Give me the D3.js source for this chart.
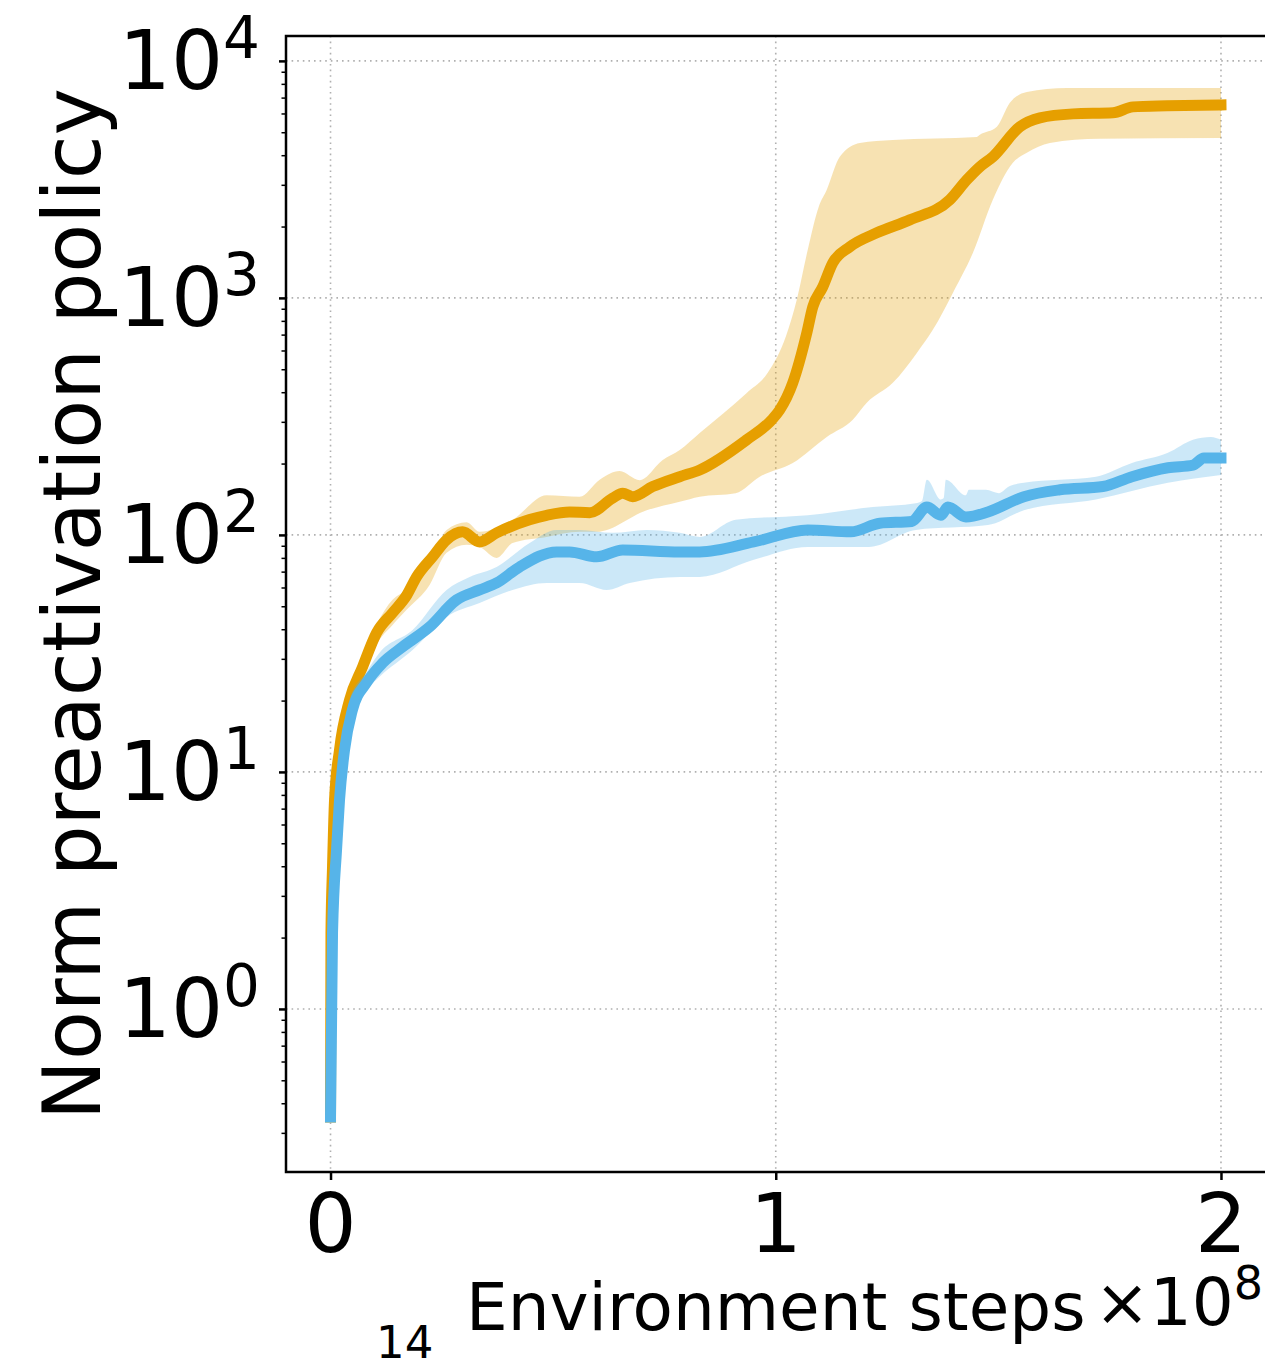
<!DOCTYPE html>
<html>
<head>
<meta charset="utf-8">
<script src="https://cdn.jsdelivr.net/npm/d3@7"></script>
<style>
  html, body { margin: 0; padding: 0; background: #fff; }
  svg { display: block; font-family: "DejaVu Sans", sans-serif; }
  .grid line { stroke: #b0b0b0; stroke-width: 1.6; stroke-dasharray: 1.6 4; }
</style>
</head>
<body>
<svg id="chart" width="1265" height="1368"></svg>
<script>
/* ---- data (steps in units of 1e8) ---- */
const orangeMean = [
  [0, 0.35], [0.001, 2.09], [0.0045, 3.97], [0.009, 7.62], [0.0202, 12.4], [0.0427, 20.1],
  [0.0719, 27.7], [0.1034, 38.6], [0.1393, 46.9], [0.1708, 55.5], [0.1933, 66.5],
  [0.2292, 80.8], [0.2607, 95.3], [0.2966, 103], [0.3348, 93.4], [0.373, 102],
  [0.4472, 116], [0.4854, 121], [0.5371, 125], [0.582, 124], [0.6337, 143],
  [0.6562, 150], [0.6787, 145], [0.7236, 160], [0.7843, 176], [0.8292, 188],
  [0.9348, 252], [0.991, 306], [1.009, 337], [1.0382, 438], [1.0697, 711],
  [1.0831, 916], [1.1056, 1113], [1.1281, 1405], [1.1663, 1642], [1.227, 1881],
  [1.3011, 2134], [1.391, 2594], [1.4292, 3148], [1.4584, 3573], [1.4876, 3938],
  [1.5483, 5270], [1.5933, 5746], [1.6674, 5976], [1.7573, 6036], [1.8022, 6397],
  [1.8787, 6462], [2.0, 6522]
];
const orangeHigh = [
  [0, 0.35], [0.0202, 13.0], [0.0427, 21.1], [0.0719, 29.7], [0.1034, 41.7], [0.1393, 53.2],
  [0.1708, 58.6], [0.2225, 74.7], [0.2607, 105], [0.3056, 113], [0.3348, 103],
  [0.409, 116], [0.4854, 147], [0.5596, 145], [0.6045, 171], [0.6494, 186],
  [0.6944, 170], [0.7461, 207], [0.7843, 228], [0.8292, 269], [0.9348, 397],
  [0.982, 483], [1.0225, 685], [1.0472, 981], [1.0719, 1596], [1.0966, 2422],
  [1.1146, 2857], [1.1438, 3937], [1.1888, 4508], [1.2629, 4641], [1.4517, 4779],
  [1.4584, 4875], [1.4966, 5270], [1.5258, 6653], [1.564, 7400], [1.6539, 7690],
  [2.0, 7690]
];
const orangeLow = [
  [0, 0.35], [0.0202, 11.2], [0.0427, 18.3], [0.0719, 24.4], [0.1034, 34.4], [0.1393, 41.7],
  [0.1708, 48.3], [0.2225, 61.5], [0.2607, 84.0], [0.3056, 90.8], [0.3348, 89.0],
  [0.373, 80.0], [0.409, 92.5], [0.4854, 98.1], [0.5596, 103], [0.5978, 103],
  [0.7101, 127], [0.7843, 138], [0.8292, 145], [0.9101, 150], [0.964, 176],
  [1.0382, 201], [1.1146, 259], [1.173, 306], [1.2045, 361], [1.2629, 438],
  [1.3169, 586], [1.3528, 733], [1.3978, 1050], [1.4427, 1548], [1.4876, 2594],
  [1.5326, 3715], [1.564, 4093], [1.6157, 4508], [1.7281, 4688], [2.0, 4733]
];
const blueMean = [
  [0, 0.35], [0.0045, 2.09], [0.0135, 4.69], [0.0202, 7.62], [0.0315, 12.4], [0.0494, 18.3],
  [0.0809, 23.8], [0.1169, 28.8], [0.1618, 33.7], [0.2225, 40.9], [0.2831, 53.2],
  [0.3348, 58.6], [0.373, 62.7], [0.4247, 73.3], [0.5079, 84.8], [0.5371, 84.8],
  [0.5978, 80.8], [0.6562, 86.4], [0.7843, 84.8], [0.8292, 84.8], [0.9506, 93.4],
  [1.0719, 105], [1.1685, 103], [1.2337, 112], [1.3056, 114], [1.3393, 131],
  [1.3708, 121], [1.3865, 131], [1.427, 119], [1.4764, 125], [1.5573, 145],
  [1.6382, 155], [1.7348, 160], [1.8, 176], [1.8809, 192], [1.9371, 197],
  [1.9618, 211], [2.0, 211]
];
const blueHigh = [
  [0, 0.35], [0.0202, 8.0], [0.0427, 20.1], [0.0809, 26.4], [0.1101, 31.8], [0.1843, 39.7],
  [0.2607, 58.6], [0.3124, 66.5], [0.373, 73.3], [0.4472, 92.5], [0.5079, 105],
  [0.5596, 105], [0.6337, 102], [0.7101, 105], [0.7843, 102], [0.8292, 98.1],
  [0.9101, 116], [1.0719, 121], [1.218, 131], [1.3146, 136], [1.3281, 139],
  [1.3393, 171], [1.3708, 141], [1.3775, 143], [1.382, 171], [1.427, 147],
  [1.4337, 155], [1.4719, 155], [1.5011, 150], [1.5236, 160], [1.5573, 166],
  [1.7191, 176], [1.8, 201], [1.8809, 222], [1.9371, 252], [1.9775, 259], [2.0, 252]
];
const blueLow = [
  [0, 0.35], [0.0202, 7.26], [0.0427, 16.6], [0.0809, 22.2], [0.1101, 25.2], [0.1843, 32.7],
  [0.2607, 45.1], [0.3348, 51.6], [0.409, 58.6], [0.4854, 62.7], [0.5596, 62.7],
  [0.6202, 58.6], [0.6719, 62.7], [0.7843, 66.5], [0.8292, 66.5], [0.9506, 78.5],
  [1.0719, 89.0], [1.209, 89.0], [1.3146, 105], [1.4764, 110], [1.5573, 127],
  [1.7191, 141], [1.8809, 166], [2.0, 179]
];
const xTicks = [0, 1, 2];
const yExponents = [0, 1, 2, 3, 4];

const series = [
  { mean: orangeMean, low: orangeLow, high: orangeHigh, color: '#E69F00' },
  { mean: blueMean, low: blueLow, high: blueHigh, color: '#56B4E9' }
];

/* ---- layout ---- */
const plotLeft = 286, plotTop = 36, plotRight = 1265.5, plotBottom = 1172;

const svg = d3.select('#chart');

const x = d3.scaleLinear().domain([-0.1, 2.1]).range([plotLeft, plotRight]);
const y = d3.scaleLog().domain([Math.pow(10, -0.688), Math.pow(10, 4.105)]).range([plotBottom, plotTop]);

svg.append('defs').append('clipPath').attr('id', 'plot-clip')
  .append('rect').attr('x', plotLeft).attr('y', plotTop)
  .attr('width', plotRight - plotLeft).attr('height', plotBottom - plotTop);

// grid
const grid = svg.append('g').attr('class', 'grid');
grid.selectAll('line.gx').data(xTicks).join('line').attr('class', 'gx')
  .attr('x1', d => x(d)).attr('x2', d => x(d)).attr('y1', plotTop).attr('y2', plotBottom);
grid.selectAll('line.gy').data(yExponents).join('line').attr('class', 'gy')
  .attr('x1', plotLeft).attr('x2', plotRight)
  .attr('y1', d => y(Math.pow(10, d))).attr('y2', d => y(Math.pow(10, d)));

// bands + mean lines
const plot = svg.append('g').attr('clip-path', 'url(#plot-clip)');
const line = d3.line().x(d => x(d[0])).y(d => y(d[1])).curve(d3.curveMonotoneX);

for (const s of series) {
  const upper = line(s.high);
  const lower = line(s.low.slice().reverse());
  plot.append('path')
    .attr('d', upper + 'L' + lower.slice(1) + 'Z')
    .attr('fill', s.color).attr('fill-opacity', 0.3).attr('stroke', 'none');
  plot.append('path')
    .attr('d', line(s.mean))
    .attr('fill', 'none').attr('stroke', s.color)
    .attr('stroke-width', 11).attr('stroke-linecap', 'square').attr('stroke-linejoin', 'round');
}

// y axis: minor + major ticks
const minor = [];
for (let e = -1; e <= 4; e++) for (let m = 2; m <= 9; m++) {
  const v = m * Math.pow(10, e);
  if (v >= y.domain()[0] && v <= y.domain()[1]) minor.push(v);
}
svg.append('g').attr('transform', `translate(${plotLeft},0)`)
  .call(d3.axisLeft(y).tickValues(minor).tickSize(4.5).tickFormat(''))
  .call(g => g.select('.domain').remove())
  .call(g => g.selectAll('.tick line').attr('stroke', '#000').attr('stroke-width', 1.5));
svg.append('g').attr('transform', `translate(${plotLeft},0)`)
  .call(d3.axisLeft(y).tickValues(yExponents.map(e => Math.pow(10, e))).tickSize(7).tickFormat(''))
  .call(g => g.select('.domain').remove())
  .call(g => g.selectAll('.tick line').attr('stroke', '#000').attr('stroke-width', 2.5));

const yLabels = svg.append('g').attr('font-size', 82).attr('fill', '#000');
yExponents.forEach(e => {
  const t = yLabels.append('text')
    .attr('x', 260).attr('y', y(Math.pow(10, e)) + 28)
    .attr('text-anchor', 'end');
  t.append('tspan').text('10');
  t.append('tspan').attr('font-size', 58).attr('dy', -31).text(String(e));
});

// x axis
svg.append('g').attr('transform', `translate(0,${plotBottom})`)
  .call(d3.axisBottom(x).tickValues(xTicks).tickSize(8).tickFormat(''))
  .call(g => g.select('.domain').remove())
  .call(g => g.selectAll('.tick line').attr('stroke', '#000').attr('stroke-width', 2.5));
svg.append('g').attr('font-size', 82).attr('text-anchor', 'middle')
  .selectAll('text').data(xTicks).join('text')
  .attr('x', d => x(d)).attr('y', 1252).text(d => d);

// spines (right spine falls just outside the picture)
svg.append('path')
  .attr('d', `M${plotRight + 2},${plotTop}H${plotLeft}V${plotBottom}H${plotRight + 2}`)
  .attr('fill', 'none').attr('stroke', '#000').attr('stroke-width', 2.5);

// axis labels
svg.append('text')
  .attr('x', (plotLeft + plotRight) / 2).attr('y', 1330)
  .attr('text-anchor', 'middle').attr('font-size', 66)
  .text('Environment steps');
const off = svg.append('text')
  .attr('x', 1263).attr('y', 1325).attr('text-anchor', 'end').attr('font-size', 66);
off.append('tspan').text('×10');
off.append('tspan').attr('font-size', 46).attr('dy', -26).text('8');

svg.append('text')
  .attr('transform', `translate(100,${(plotTop + plotBottom) / 2}) rotate(-90)`)
  .attr('text-anchor', 'middle').attr('font-size', 80)
  .text('Norm preactivation policy');

svg.append('text').attr('x', 376).attr('y', 1358).attr('font-size', 45).text('14');
</script>
</body>
</html>
